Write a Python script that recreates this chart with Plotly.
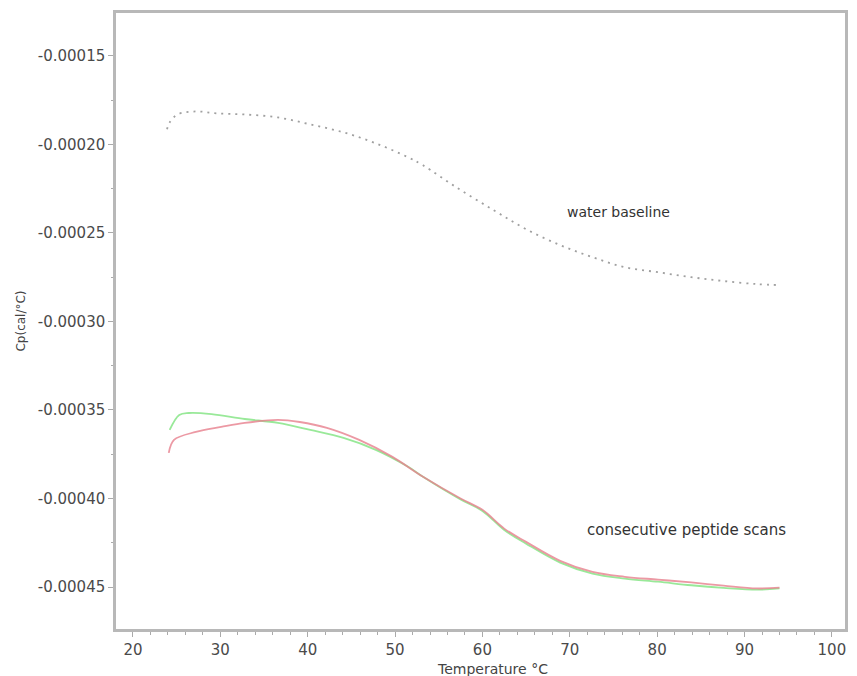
import plotly.graph_objects as go

# Water baseline (dotted)
water_t = [23.9, 24.2, 25.1, 27.2, 29.6, 32.8, 36.6, 40.3, 44.1, 47.8, 51.5, 53.2,
           57.0, 61.3, 65.0, 68.9, 72.6, 76.3, 80.1, 83.9, 87.6, 91.4, 94.0]
water_cp = [-0.0001915, -0.0001876, -0.0001831, -0.0001814, -0.0001825, -0.0001831,
            -0.0001848, -0.0001887, -0.0001932, -0.0001994, -0.0002073, -0.0002118,
            -0.0002242, -0.0002372, -0.0002479, -0.0002569, -0.0002637, -0.0002694,
            -0.0002722, -0.0002750, -0.0002772, -0.0002789, -0.0002795]

# Peptide scan 1 (red)
red_t = [24.1, 24.7, 27.2, 30.1, 32.8, 36.6, 39.1, 42.2, 45.9, 49.7, 53.2, 57.5,
         60.0, 62.5, 65.0, 68.9, 72.6, 76.3, 80.1, 83.9, 87.6, 91.4, 94.0]
red_cp = [-0.0003742, -0.0003669, -0.0003624, -0.0003596, -0.0003573, -0.0003556,
          -0.0003568, -0.0003601, -0.0003669, -0.0003765, -0.0003877, -0.0004000,
          -0.0004064, -0.0004170, -0.0004245, -0.0004352, -0.0004415, -0.0004442,
          -0.0004458, -0.0004474, -0.0004492, -0.0004508, -0.0004503]

# Peptide scan 2 (green)
green_t = [24.2, 25.3, 26.4, 29.0, 32.8, 36.6, 40.3, 44.1, 47.8, 51.5, 53.2, 57.5,
           60.0, 62.5, 65.0, 68.9, 72.6, 76.3, 80.1, 83.9, 87.6, 91.4, 94.0]
green_cp = [-0.0003613, -0.0003528, -0.0003517, -0.0003523, -0.0003551, -0.0003573,
            -0.0003613, -0.0003658, -0.0003725, -0.0003821, -0.0003877, -0.0004005,
            -0.0004070, -0.0004178, -0.0004255, -0.0004362, -0.0004424, -0.0004452,
            -0.0004470, -0.0004490, -0.0004505, -0.0004515, -0.0004508]

x_ticks = [20, 30, 40, 50, 60, 70, 80, 90, 100]
y_ticks = [-0.00015, -0.00020, -0.00025, -0.00030, -0.00035, -0.00040, -0.00045]
y_ticktext = ["-0.00015", "-0.00020", "-0.00025", "-0.00030", "-0.00035", "-0.00040", "-0.00045"]

FONT = "DejaVu Sans, Verdana, sans-serif"

fig = go.Figure()
fig.add_trace(go.Scatter(x=water_t, y=water_cp, mode="lines", line_shape="spline",
                         line=dict(color="#a0a0a0", width=1.8, dash="2px,5px"),
                         name="water baseline"))
fig.add_trace(go.Scatter(x=green_t, y=green_cp, mode="lines", line_shape="spline",
                         line=dict(color="#80e480", width=1.8), opacity=0.8,
                         name="scan 2"))
fig.add_trace(go.Scatter(x=red_t, y=red_cp, mode="lines", line_shape="spline",
                         line=dict(color="#e8808e", width=1.8), opacity=0.8,
                         name="scan 1"))

fig.add_annotation(x=75.6, y=-0.0002383, text="water baseline", showarrow=False,
                   font=dict(family=FONT, size=14, color="#333333"))
fig.add_annotation(x=83.4, y=-0.0004176, text="consecutive peptide scans", showarrow=False,
                   font=dict(family=FONT, size=15, color="#333333"))
# x-axis title placed as annotation (slightly right of centre, as in the original)
fig.add_annotation(x=61.2, xref="x", y=0, yref="paper", yanchor="top", yshift=-30,
                   text="Temperature °C", showarrow=False,
                   font=dict(family=FONT, size=14, color="#444444"))

tick_font = dict(family=FONT, size=15, color="#4a4a4a")
fig.update_layout(
    width=841, height=676,
    margin=dict(l=108, r=1, t=5, b=55),
    paper_bgcolor="white", plot_bgcolor="white",
    showlegend=False,
    font=dict(family=FONT, color="#444444"),
    xaxis=dict(range=[18.06, 101.5], tickvals=x_ticks, ticks="outside", ticklen=5,
               tickcolor="#aaaaaa", showgrid=False, zeroline=False,
               showline=True, linecolor="#b8b8b8", linewidth=2.5, mirror=True,
               minor=dict(dtick=2, ticks="outside", ticklen=3, tickcolor="#aaaaaa"),
               tickfont=tick_font),
    yaxis=dict(range=[-0.0004737, -0.0001258], tickvals=y_ticks, ticktext=y_ticktext,
               ticks="outside", ticklen=5, tickcolor="#aaaaaa",
               showgrid=False, zeroline=False,
               showline=True, linecolor="#b8b8b8", linewidth=2.5, mirror=True,
               minor=dict(dtick=0.000025, ticks="outside", ticklen=2, tickcolor="#aaaaaa"),
               title=dict(text="Cp(cal/°C)", font=dict(family=FONT, size=12, color="#444444"),
                          standoff=10),
               tickfont=tick_font),
)

fig.write_html("out.html")
